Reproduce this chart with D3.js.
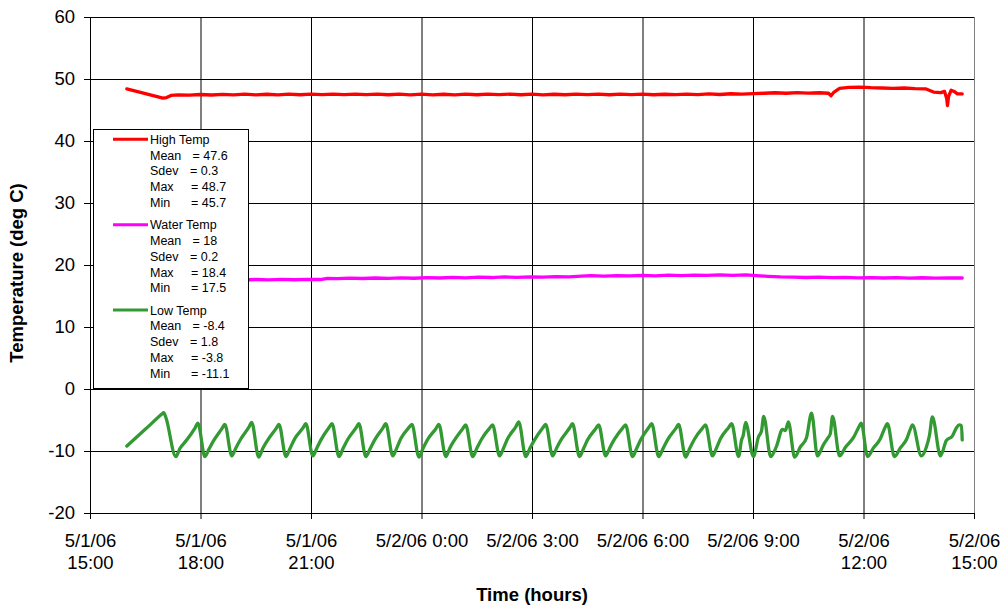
<!DOCTYPE html>
<html>
<head>
<meta charset="utf-8">
<script src="https://cdn.jsdelivr.net/npm/d3@7"></script>
<style>
  html, body { margin: 0; padding: 0; background: #fff; }
  svg { display: block; font-family: "Liberation Sans", Arial, sans-serif; }
</style>
</head>
<body>
<svg id="chart" width="1003" height="608"></svg>
<script>
// Readings: [hours after 5/1/06 15:00, temperature in deg C]
const highTemp = [
  [1.00,48.4],[1.98,46.9],[2.08,47.0],[2.20,47.35],[2.40,47.45],[2.70,47.4],[3.00,47.5],[3.30,47.42],
  [3.60,47.52],[3.90,47.44],[4.20,47.55],[4.50,47.45],[4.80,47.54],[5.10,47.43],[5.40,47.56],[5.70,47.46],
  [6.00,47.55],[6.30,47.47],[6.60,47.57],[6.90,47.48],[7.20,47.56],[7.50,47.47],[7.80,47.55],[8.10,47.46],
  [8.40,47.56],[8.70,47.45],[9.00,47.55],[9.30,47.44],[9.60,47.54],[9.90,47.45],[10.20,47.55],[10.50,47.46],
  [10.80,47.57],[11.10,47.47],[11.40,47.56],[11.70,47.46],[12.00,47.55],[12.30,47.45],[12.60,47.54],[12.90,47.46],
  [13.20,47.56],[13.50,47.47],[13.80,47.55],[14.10,47.46],[14.40,47.56],[14.70,47.47],[15.00,47.55],[15.30,47.46],
  [15.60,47.54],[15.90,47.47],[16.20,47.56],[16.50,47.48],[16.80,47.6],[17.10,47.5],[17.40,47.62],[17.70,47.55],
  [18.00,47.65],[18.30,47.7],[18.60,47.78],[18.90,47.7],[19.20,47.8],[19.50,47.72],[19.80,47.78],[20.05,47.7],
  [20.12,47.3],[20.20,47.9],[20.35,48.5],[20.60,48.65],[20.90,48.7],[21.20,48.6],[21.50,48.55],[21.80,48.5],
  [22.10,48.55],[22.40,48.45],[22.70,48.4],[22.90,47.9],[23.10,47.8],[23.20,48.0],[23.26,46.8],[23.28,45.7],
  [23.31,47.2],[23.38,48.2],[23.46,48.0],[23.55,47.6],[23.68,47.6]
];

const waterTemp = [
  [1.00,17.6],[1.35,17.55],[1.70,17.62],[2.05,17.56],[2.40,17.63],[2.75,17.57],[3.10,17.64],[3.45,17.58],
  [3.80,17.65],[4.15,17.58],[4.50,17.66],[4.85,17.6],[5.20,17.67],[5.55,17.62],[5.90,17.68],[6.25,17.66],
  [6.45,17.85],[6.70,17.8],[7.05,17.88],[7.40,17.82],[7.75,17.9],[8.10,17.84],[8.45,17.92],[8.80,17.86],
  [9.15,17.95],[9.50,17.9],[9.85,18.0],[10.20,17.93],[10.55,18.04],[10.90,17.98],[11.25,18.07],[11.60,18.0],
  [11.95,18.1],[12.30,18.03],[12.65,18.12],[13.00,18.08],[13.35,18.2],[13.60,18.3],[13.95,18.22],[14.30,18.3],
  [14.65,18.24],[15.00,18.33],[15.35,18.26],[15.70,18.36],[16.05,18.3],[16.40,18.38],[16.75,18.32],[17.10,18.4],
  [17.45,18.34],[17.80,18.4],[18.10,18.3],[18.40,18.18],[18.75,18.08],[19.10,18.04],[19.45,17.98],[19.80,18.03],
  [20.15,17.96],[20.50,18.0],[20.85,17.92],[21.20,17.97],[21.55,17.9],[21.90,17.95],[22.25,17.88],[22.60,17.94],
  [22.95,17.87],[23.30,17.93],[23.68,17.9]
];

const lowTemp = [
  [1.00,-9.2],[1.50,-6.5],[1.96,-4.0],[2.00,-3.8],[2.06,-4.6],[2.33,-10.9],
  [2.44,-9.6],[2.63,-8.2],[2.85,-6.3],[2.93,-5.5],[3.12,-10.9],
  [3.23,-9.7],[3.36,-8.3],[3.58,-6.4],[3.66,-5.7],[3.85,-10.8],
  [3.96,-9.5],[4.09,-8.1],[4.31,-6.2],[4.39,-5.4],[4.58,-11.0],
  [4.69,-9.6],[4.83,-8.2],[5.05,-6.4],[5.13,-5.7],[5.32,-10.9],
  [5.43,-9.6],[5.56,-8.0],[5.78,-6.3],[5.86,-5.6],[6.05,-10.8],
  [6.16,-9.5],[6.27,-8.2],[6.49,-6.2],[6.57,-5.6],[6.76,-10.9],
  [6.87,-9.6],[7.00,-8.1],[7.22,-6.3],[7.30,-5.6],[7.49,-10.9],
  [7.60,-9.7],[7.73,-8.2],[7.95,-6.3],[8.03,-5.6],[8.22,-10.8],
  [8.33,-9.5],[8.44,-8.0],[8.66,-6.2],[8.74,-5.7],[8.93,-11.0],
  [9.04,-9.6],[9.17,-8.1],[9.39,-6.4],[9.47,-5.7],[9.66,-10.9],
  [9.77,-9.5],[9.90,-8.2],[10.12,-6.4],[10.20,-5.8],[10.39,-10.9],
  [10.50,-9.6],[10.63,-8.1],[10.85,-6.3],[10.93,-5.8],[11.12,-10.8],
  [11.23,-9.5],[11.34,-8.0],[11.56,-6.1],[11.64,-5.3],[11.83,-10.9],
  [11.94,-9.6],[12.07,-8.2],[12.29,-6.3],[12.37,-5.7],[12.56,-10.8],
  [12.67,-9.5],[12.80,-8.1],[13.02,-6.3],[13.10,-5.6],[13.29,-10.9],
  [13.40,-9.6],[13.51,-8.2],[13.73,-6.4],[13.81,-5.8],[14.00,-10.8],
  [14.11,-9.5],[14.24,-8.1],[14.46,-6.3],[14.54,-5.8],[14.73,-10.9],
  [14.84,-9.6],[14.95,-8.2],[15.17,-6.2],[15.25,-5.6],[15.44,-10.9],
  [15.55,-9.7],[15.68,-8.2],[15.90,-6.4],[15.98,-5.7],[16.17,-11.0],
  [16.28,-9.6],[16.41,-8.1],[16.63,-6.3],[16.71,-5.8],[16.90,-10.8],
  [17.01,-9.5],[17.12,-8.0],[17.34,-6.2],[17.42,-5.6],[17.61,-10.9],
  [17.69,-8.2],[17.73,-7.6],[17.80,-5.4],[18.01,-10.9],
  [18.15,-7.7],[18.23,-6.8],[18.29,-4.4],[18.48,-10.9],
  [18.64,-9.2],[18.80,-6.5],[18.88,-6.7],[18.96,-5.3],[19.13,-11.0],
  [19.29,-9.3],[19.45,-7.9],[19.59,-3.9],[19.75,-10.8],
  [19.91,-9.0],[20.02,-8.0],[20.10,-7.2],[20.16,-4.4],[20.35,-10.8],
  [20.51,-9.4],[20.73,-7.8],[20.86,-6.3],[20.94,-5.5],[21.11,-10.9],
  [21.27,-9.5],[21.46,-8.0],[21.57,-6.4],[21.65,-5.6],[21.84,-10.9],
  [22.00,-9.5],[22.17,-8.1],[22.27,-6.5],[22.33,-5.8],[22.57,-10.8],
  [22.71,-9.3],[22.79,-7.5],[22.87,-4.5],[23.09,-10.8],
  [23.25,-8.3],[23.41,-7.6],[23.52,-6.3],[23.60,-5.8],[23.66,-5.9],[23.68,-8.2]
];

const seriesNames = ["High Temp", "Water Temp", "Low Temp"];
const seriesColors = ["#ff0000", "#ff00ff", "#339933"];
const statNames = ["Mean", "Sdev", "Max", "Min"];
const highStats = ["47.6", "0.3", "48.7", "45.7"];
const waterStats = ["18", "0.2", "18.4", "17.5"];
const lowStats = ["-8.4", "1.8", "-3.8", "-11.1"];

const yTicks = [-20, -10, 0, 10, 20, 30, 40, 50, 60];
const xTickHours = [0, 3, 6, 9, 12, 15, 18, 21, 24];
const xTickLabels = [
  ["5/1/06", "15:00"], ["5/1/06", "18:00"], ["5/1/06", "21:00"],
  ["5/2/06 0:00"], ["5/2/06 3:00"], ["5/2/06 6:00"], ["5/2/06 9:00"],
  ["5/2/06", "12:00"], ["5/2/06", "15:00"]
];

const svg = d3.select("#chart");
const plotLeft = 90, plotRight = 974, plotTop = 17, plotBottom = 513;

const start = new Date(2006, 4, 1, 15, 0, 0);
const toDate = h => new Date(start.getTime() + h * 3600 * 1000);

const x = d3.scaleTime().domain([start, toDate(24)]).range([plotLeft, plotRight]);
const y = d3.scaleLinear().domain([-20, 60]).range([plotBottom, plotTop]);

// horizontal grid
svg.append("g")
  .attr("transform", `translate(${plotLeft},0)`)
  .call(d3.axisLeft(y).tickValues(yTicks).tickSize(-(plotRight - plotLeft)).tickFormat(""))
  .call(g => g.select(".domain").remove())
  .call(g => g.selectAll("line").attr("stroke", "#000").attr("stroke-width", 1));

// vertical grid
svg.append("g")
  .attr("transform", `translate(0,${plotBottom})`)
  .call(d3.axisBottom(x).tickValues(xTickHours.map(toDate)).tickSize(-(plotBottom - plotTop)).tickFormat(""))
  .call(g => g.select(".domain").remove())
  .call(g => g.selectAll("line").attr("stroke", "#000").attr("stroke-width", 1));

// Y axis (plain hyphen for negatives)
const yAxis = svg.append("g")
  .attr("transform", `translate(${plotLeft},0)`)
  .call(d3.axisLeft(y).tickValues(yTicks).tickSize(6).tickPadding(9).tickFormat(d => String(d)));
yAxis.select(".domain").attr("stroke", "#000");
yAxis.selectAll("line").attr("stroke", "#000");
yAxis.selectAll("text")
  .attr("font-size", "18.5px")
  .attr("fill", "#000")
  .attr("font-family", "'Liberation Sans', Arial, sans-serif");

// X axis with two-line tick labels
const xAxis = svg.append("g")
  .attr("transform", `translate(0,${plotBottom})`)
  .call(d3.axisBottom(x).tickValues(xTickHours.map(toDate)).tickSize(6).tickFormat(""));
xAxis.select(".domain").attr("stroke", "#000");
xAxis.selectAll("line").attr("stroke", "#000");
xAxis.selectAll(".tick").each(function(d, i) {
  const t = d3.select(this).select("text")
    .attr("y", 0).attr("dy", null)
    .attr("font-size", "18.5px")
    .attr("fill", "#000")
    .attr("font-family", "'Liberation Sans', Arial, sans-serif");
  xTickLabels[i].forEach((line, k) => {
    t.append("tspan").attr("x", 0).attr("y", 34 + k * 22).text(line);
  });
});

// right border of plot area
svg.append("line")
  .attr("x1", plotRight + 0.5).attr("x2", plotRight + 0.5)
  .attr("y1", plotTop).attr("y2", plotBottom)
  .attr("stroke", "#808080");

// series lines
const straight = d3.line()
  .x(d => x(toDate(d[0])))
  .y(d => y(d[1]));
const smooth = d3.line()
  .curve(d3.curveMonotoneX)
  .x(d => x(toDate(d[0])))
  .y(d => y(d[1]));

[highTemp, waterTemp, lowTemp].forEach((data, i) => {
  svg.append("path")
    .datum(data)
    .attr("d", i === 2 ? smooth : straight)
    .attr("fill", "none")
    .attr("stroke", seriesColors[i])
    .attr("stroke-width", 3.3)
    .attr("stroke-linejoin", "round")
    .attr("stroke-linecap", "round");
});

// axis titles
svg.append("text")
  .attr("transform", "translate(23,273) rotate(-90)")
  .attr("text-anchor", "middle")
  .attr("font-size", "18.5px")
  .attr("font-weight", "bold")
  .text("Temperature (deg C)");

svg.append("text")
  .attr("x", (plotLeft + plotRight) / 2)
  .attr("y", 601)
  .attr("text-anchor", "middle")
  .attr("font-size", "18.5px")
  .attr("font-weight", "bold")
  .text("Time (hours)");

// legend with summary statistics
const legend = svg.append("g");
legend.append("rect")
  .attr("x", 93.5).attr("y", 129.5)
  .attr("width", 155).attr("height", 259)
  .attr("fill", "#fff")
  .attr("stroke", "#000");

const allStats = [highStats, waterStats, lowStats];
const statX = [192.5, 190, 191, 191];
seriesNames.forEach((name, i) => {
  const cy = 139.3 + i * 85.4;
  legend.append("line")
    .attr("x1", 113).attr("x2", 148)
    .attr("y1", cy).attr("y2", cy)
    .attr("stroke", seriesColors[i])
    .attr("stroke-width", 3);
  legend.append("text")
    .attr("x", 150).attr("y", cy + 4.5)
    .attr("font-size", "12.5px")
    .text(name);
  statNames.forEach((s, k) => {
    const by = cy + 4.5 + (k + 1) * 15.8;
    legend.append("text")
      .attr("x", 150).attr("y", by)
      .attr("font-size", "12.5px")
      .text(s);
    legend.append("text")
      .attr("x", statX[k]).attr("y", by)
      .attr("font-size", "12.5px")
      .text("= " + allStats[i][k]);
  });
});
</script>
</body>
</html>
